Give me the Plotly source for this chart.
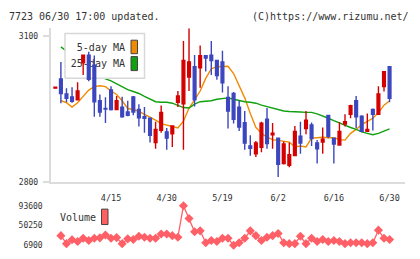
import plotly.graph_objects as go

# ---------------- data ----------------
x_idx = list(range(61))
tick_pos = [10, 20, 30, 40, 50, 60]
tick_labels = ["4/15", "4/30", "5/19", "6/2", "6/16", "6/30"]

open_ = [2993, 3012, 2981, 2975, 2969, 3045, 3061, 3040, 2967, 2951,
         2989, 2949, 2954, 2944, 2975, 2949, 2934, 2931, 2881, 2906,
         2903, 2899, 2964, 2961, 3016, 3037, 3035, 3060, 3061, 3050,
         3047, 2974, 2982, 2954, 2922, 2874, 2858, 2871, 2929, 2897,
         2890, 2838, 2834, 2854, 2894, 2910, 2917, 2880, 2882, 2937,
         2890, 2876, 2919, 2939, 2967, 2935, 2904, 2949, 2939, 2996,
         3037]
high = [2995, 3047, 2993, 2995, 3005, 3062, 3068, 3060, 2980, 2974,
        2997, 2977, 2975, 2967, 2977, 2960, 2954, 2932, 2924, 2957,
        2911, 2915, 2987, 3090, 3116, 3061, 3081, 3060, 3090, 3050,
        3070, 2997, 2985, 2967, 2946, 2896, 2884, 2924, 2952, 2921,
        2891, 2883, 2881, 2915, 2924, 2946, 2922, 2886, 2912, 2937,
        2890, 2923, 2939, 2959, 2977, 2937, 2941, 2951, 2997, 3027,
        3037]
low = [2993, 2962, 2964, 2963, 2968, 3020, 3007, 2934, 2934, 2921,
       2947, 2949, 2932, 2935, 2937, 2914, 2901, 2881, 2868, 2901,
       2866, 2872, 2954, 2866, 2987, 2955, 2994, 3027, 3020, 3010,
       2984, 2910, 2920, 2905, 2866, 2854, 2851, 2861, 2868, 2868,
       2810, 2836, 2830, 2853, 2858, 2898, 2874, 2838, 2858, 2890,
       2838, 2876, 2914, 2931, 2911, 2902, 2904, 2906, 2939, 2986,
       2964]
close = [2995, 2982, 2972, 2966, 2987, 3061, 3011, 2965, 2944, 2950,
         2949, 2967, 2934, 2937, 2944, 2932, 2931, 2896, 2908, 2943,
         2890, 2915, 2977, 3050, 3047, 2969, 3060, 3055, 3050, 3019,
         3004, 2946, 2929, 2913, 2880, 2869, 2880, 2921, 2879, 2900,
         2836, 2878, 2856, 2904, 2880, 2927, 2889, 2868, 2888, 2894,
         2878, 2904, 2924, 2957, 2934, 2904, 2908, 2939, 2981, 3027,
         2972]
ma5 = [None, 2967, 2963, 2954, 2963, 2976, 2989, 2996, 2998, 2996,
       2987, 2980, 2967, 2951, 2949, 2945, 2939, 2934, 2927, 2920,
       2917, 2914, 2911, 2925, 2952, 2969, 2987, 3013, 3033, 3037,
       3037, 3038, 3023, 2999, 2973, 2941, 2912, 2900, 2892, 2887,
       2885, 2884, 2882, 2872, 2874, 2872, 2890, 2891, 2892, 2891,
       2891, 2887, 2886, 2900, 2908, 2918, 2924, 2931, 2943, 2958,
       2967]
ma25 = [None, 3078, 3069, 3061, 3053, 3045, 3037, 3029, 3021, 3012,
        3008, 3002, 2996, 2990, 2986, 2982, 2976, 2970, 2965, 2964,
        2964, 2962, 2958, 2953, 2952, 2960, 2965, 2966, 2967, 2970,
        2972, 2973, 2970, 2967, 2965, 2964, 2962, 2958, 2955, 2951,
        2948, 2946, 2945, 2945, 2944, 2943, 2943, 2940, 2936, 2931,
        2926, 2921, 2917, 2912, 2908, 2903, 2900, 2897, 2900, 2905,
        2909]
volume = [None, 28050, 10500, 19000, 15400, 22300, 17500, 22300, 23200, 29500,
          22300, 23800, 10500, 21100, 19600, 26600, 24500, 22300, 22300, 31600,
          31600, 28050, 24500, 93600, 65500, 36500, 38600, 12600, 17500, 15400,
          22300, 22300, 6900, 12600, 22300, 38600, 28050, 17500, 24500, 28050,
          32900, 12600, 10500, 10500, 26600, 10500, 22300, 15400, 19600, 15400,
          17500, 15400, 10500, 12600, 12600, 12600, 10500, 12600, 40100, 22300,
          19600]

# ---------------- style ----------------
W, H = 420, 259
FONT = "DejaVu Sans Mono"
TXT = "#333333"
AX = "#dcdcdc"
RED = "#d40000"
BLUE = "#3c46be"
ORANGE = "#f08a00"
GREEN = "#10a010"
VOLC = "#ff5f66"

px_l, px_r = 50.7, 405.0
px_top, px_bot = 25.0, 184.3
xdom = [px_l / W, px_r / W]
ydom = [(H - px_bot) / H, (H - px_top) / H]
vdom = [(H - 250) / H, (H - 209) / H]
xr = [-0.83, 62.77]
yr = [2800, 3116.5]

vmin = min(v for v in volume if v is not None)
vmax = max(v for v in volume if v is not None)

def fx(p):  # pixel -> fraction of plot area (helper overlay axes)
    return (p - px_l) / (px_r - px_l)

def fy(p):
    return (px_bot - p) / (px_bot - px_top)

fig = go.Figure()

# MA lines (main subplot, lowest layer)
fig.add_trace(go.Scatter(x=x_idx, y=ma5, mode="lines", line=dict(color=ORANGE, width=1.4),
                         xaxis="x", yaxis="y", hoverinfo="skip"))
fig.add_trace(go.Scatter(x=x_idx, y=ma25, mode="lines", line=dict(color=GREEN, width=1.4),
                         xaxis="x", yaxis="y", hoverinfo="skip"))

# legend box (overlay subplot x2/y2, above MA lines, below candles)
bx0, bx1, by0, by1 = fx(65), fx(144.5), fy(77), fy(30.5)
fig.add_trace(go.Scatter(x=[bx0, bx1, bx1, bx0, bx0], y=[by0, by0, by1, by1, by0],
                         mode="lines", fill="toself", fillcolor="white",
                         line=dict(color="#d8d8d8", width=1.5), xaxis="x2", yaxis="y2",
                         hoverinfo="skip"))
for (yt0, yt1, col) in [(37.5, 51.5, ORANGE), (54.5, 69, GREEN)]:
    sx0, sx1 = fx(131), fx(137.5)
    fig.add_trace(go.Scatter(x=[sx0, sx1, sx1, sx0, sx0], y=[fy(yt1), fy(yt1), fy(yt0), fy(yt0), fy(yt1)],
                             mode="lines", fill="toself", fillcolor=col,
                             line=dict(color="#444444", width=1), xaxis="x2", yaxis="y2",
                             hoverinfo="skip"))
fig.add_trace(go.Scatter(x=[fx(125), fx(125)], y=[fy(46.5), fy(62.5)], mode="text",
                         text=["5-day MA", "25-day MA"], textposition="middle left",
                         textfont=dict(family=FONT, size=10, color=TXT),
                         xaxis="x2", yaxis="y2", hoverinfo="skip"))

# candles (overlay subplot x3/y3, top layer)
fig.add_trace(go.Candlestick(x=x_idx, open=open_, high=high, low=low, close=close,
                             increasing=dict(line=dict(color=RED, width=1.4), fillcolor=RED),
                             decreasing=dict(line=dict(color=BLUE, width=1.4), fillcolor=BLUE),
                             xaxis="x3", yaxis="y3", hoverinfo="skip"))

# volume
fig.add_trace(go.Scatter(x=x_idx, y=volume, mode="lines+markers",
                         line=dict(color=VOLC, width=1.3),
                         marker=dict(symbol="diamond", size=7, color=VOLC),
                         cliponaxis=False, xaxis="x4", yaxis="y4", hoverinfo="skip"))

fig.update_layout(
    width=W, height=H, margin=dict(l=0, r=0, t=0, b=0),
    paper_bgcolor="white", plot_bgcolor="white", showlegend=False,
    font=dict(family=FONT, color=TXT, size=8),
    xaxis=dict(domain=xdom, range=xr, anchor="y", showgrid=False, zeroline=False,
               showline=True, linecolor=AX, linewidth=2, ticks="",
               tickvals=tick_pos, ticktext=tick_labels,
               tickfont=dict(family=FONT, size=8.5, color=TXT), ticklabelstandoff=7),
    yaxis=dict(domain=ydom, range=yr, anchor="x", showgrid=False, zeroline=False,
               showline=True, linecolor=AX, linewidth=2, ticks="outside", ticklen=6,
               tickcolor=AX, tickwidth=2, tickvals=[2800, 3100],
               tickfont=dict(family=FONT, size=8, color=TXT), ticklabelstandoff=3),
    xaxis2=dict(overlaying="x", range=[0, 1], visible=False, anchor="y2"),
    yaxis2=dict(overlaying="y", range=[0, 1], visible=False, anchor="x2"),
    xaxis3=dict(overlaying="x", matches="x", visible=False, anchor="y3",
                rangeslider=dict(visible=False)),
    yaxis3=dict(overlaying="y", matches="y", visible=False, anchor="x3"),
    xaxis4=dict(domain=xdom, matches="x", anchor="y4", visible=False),
    yaxis4=dict(domain=vdom, range=[vmin, vmax], anchor="x4", showgrid=False, zeroline=False,
                showline=False, ticks="", tickvals=[vmin, (vmin + vmax) / 2, vmax],
                tickformat="d", tickfont=dict(family=FONT, size=8, color=TXT),
                ticklabelstandoff=7),
    xaxis5=dict(overlaying="x", anchor="y", range=[0, 11], dtick=1, tick0=0,
                ticks="outside", ticklen=5, tickwidth=2, tickcolor=AX,
                showticklabels=False, showgrid=False, zeroline=False, showline=False),
    xaxis6=dict(overlaying="x", anchor="y", range=[0, 11], dtick=1, tick0=0,
                ticks="inside", ticklen=3, tickwidth=2, tickcolor=AX,
                showticklabels=False, showgrid=False, zeroline=False, showline=False),
)

fig.add_annotation(text="7723 06/30 17:00 updated.", x=7 / W, y=(H - 12.5) / H,
                   xref="paper", yref="paper", xanchor="left", yanchor="middle",
                   showarrow=False, font=dict(family=FONT, size=10, color=TXT))
fig.add_annotation(text="(C)https://www.rizumu.net/", x=411 / W, y=(H - 12.5) / H,
                   xref="paper", yref="paper", xanchor="right", yanchor="middle",
                   showarrow=False, font=dict(family=FONT, size=10, color=TXT))
fig.add_annotation(text="Volume", x=58 / W, y=(H - 221.5) / H,
                   xref="paper", yref="paper", xanchor="left", yanchor="middle",
                   showarrow=False, font=dict(family=FONT, size=10, color=TXT))
fig.add_shape(type="rect", xref="paper", yref="paper",
              x0=101.5 / W, x1=108 / W, y0=(H - 228.5) / H, y1=(H - 212.5) / H,
              fillcolor="#ff6060", line=dict(color="#444444", width=1))

fig.write_html("out.html")
